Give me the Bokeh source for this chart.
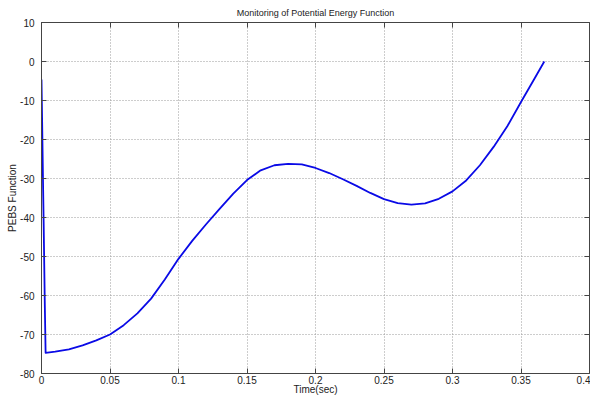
import math
from bokeh.plotting import figure
from bokeh.models import LinearAxis, FixedTicker, Range1d
from bokeh.embed import file_html
from bokeh.resources import INLINE

# ---- data ----
time_sec = [0.0, 0.0004, 0.0008, 0.0012, 0.0016, 0.002, 0.0024, 0.003,
            0.01, 0.02, 0.03, 0.04, 0.05, 0.06, 0.07, 0.08, 0.09, 0.1,
            0.11, 0.12, 0.13, 0.14, 0.15, 0.16, 0.17, 0.18, 0.19, 0.2,
            0.21, 0.22, 0.23, 0.24, 0.25, 0.26, 0.27, 0.28, 0.29, 0.3,
            0.31, 0.32, 0.33, 0.34, 0.35, 0.36, 0.367]
pebs = [-4.6, -14.0, -23.5, -33.0, -42.0, -52.0, -62.0, -74.7,
        -74.4, -73.8, -72.8, -71.5, -70.0, -67.6, -64.6, -60.8, -55.9, -50.6,
        -46.0, -41.8, -37.8, -33.9, -30.4, -27.9, -26.6, -26.25, -26.4, -27.3,
        -28.6, -30.2, -31.9, -33.7, -35.3, -36.3, -36.7, -36.4, -35.2, -33.3,
        -30.5, -26.6, -21.9, -16.6, -10.4, -4.3, 0.0]

x_ticks = [0, 0.05, 0.1, 0.15, 0.2, 0.25, 0.3, 0.35, 0.4]
x_tick_labels = ["0", "0.05", "0.1", "0.15", "0.2", "0.25", "0.3", "0.35", "0.4"]
y_ticks = [-80, -70, -60, -50, -40, -30, -20, -10, 0, 10]
y_tick_labels = ["-80", "-70", "-60", "-50", "-40", "-30", "-20", "-10", "0", "10"]

FONT = "Liberation Sans"
AX_COL = "#444444"
TXT_COL = "#222222"

p = figure(width=590, height=397, output_backend="svg", toolbar_location=None,
           x_range=Range1d(x_ticks[0], x_ticks[-1]), y_range=Range1d(y_ticks[0], y_ticks[-1]),
           title="Monitoring of Potential Energy Function",
           min_border_left=41, min_border_right=1, min_border_top=22, min_border_bottom=0)

p.title.align = "center"
p.title.text_font = FONT
p.title.text_font_size = "9px"
p.title.text_font_style = "normal"
p.title.text_color = TXT_COL
p.title.standoff = 10
p.title.offset = 0

for g, ticks in ((p.xgrid[0], x_ticks), (p.ygrid[0], y_ticks)):
    g.ticker = FixedTicker(ticks=ticks)
    g.grid_line_color = "#9a9a9a"
    g.grid_line_dash = "1 2"
    g.grid_line_width = 1

p.line(time_sec, pebs, line_color="#0a0ae6", line_width=1.8, line_join="round")

for ax, ticks, labels in ((p.xaxis[0], x_ticks, x_tick_labels), (p.yaxis[0], y_ticks, y_tick_labels)):
    ax.ticker = FixedTicker(ticks=ticks)
    ax.major_label_overrides = {t: l for t, l in zip(ticks, labels)}
    ax.major_label_text_font = FONT
    ax.major_label_text_font_size = "10px"
    ax.major_label_text_color = TXT_COL
    ax.axis_line_color = AX_COL
    ax.major_tick_line_color = AX_COL
    ax.major_tick_in = 5
    ax.major_tick_out = 0
    ax.minor_tick_line_color = None
    ax.axis_label_text_font = FONT
    ax.axis_label_text_font_size = "10px"
    ax.axis_label_text_font_style = "normal"
    ax.axis_label_text_color = TXT_COL

p.xaxis.axis_label = "Time(sec)"
p.xaxis.major_label_standoff = 2
p.xaxis.axis_label_standoff = -3
p.yaxis.axis_label = "PEBS Function"
p.yaxis.major_label_standoff = 7
p.yaxis.axis_label_standoff = -1

# top box axis with inward ticks, labels not drawn
top = LinearAxis(ticker=FixedTicker(ticks=x_ticks), major_label_text_font_size="0px",
                 major_label_text_color=None,
                 axis_line_color=AX_COL, major_tick_line_color=AX_COL,
                 major_tick_in=5, major_tick_out=0, minor_tick_line_color=None,
                 major_label_standoff=0)
p.add_layout(top, "above")

# right box side: inward ticks at each y tick, drawn from the right end of the x range
p.ray(x=[x_ticks[-1]] * len(y_ticks), y=y_ticks, length=5, length_units="screen",
      angle=math.pi, line_color=AX_COL, line_width=1)

p.outline_line_color = AX_COL
p.outline_line_width = 1
p.background_fill_color = "white"
p.border_fill_color = "white"

open("out.html", "w").write(file_html(p, INLINE))
